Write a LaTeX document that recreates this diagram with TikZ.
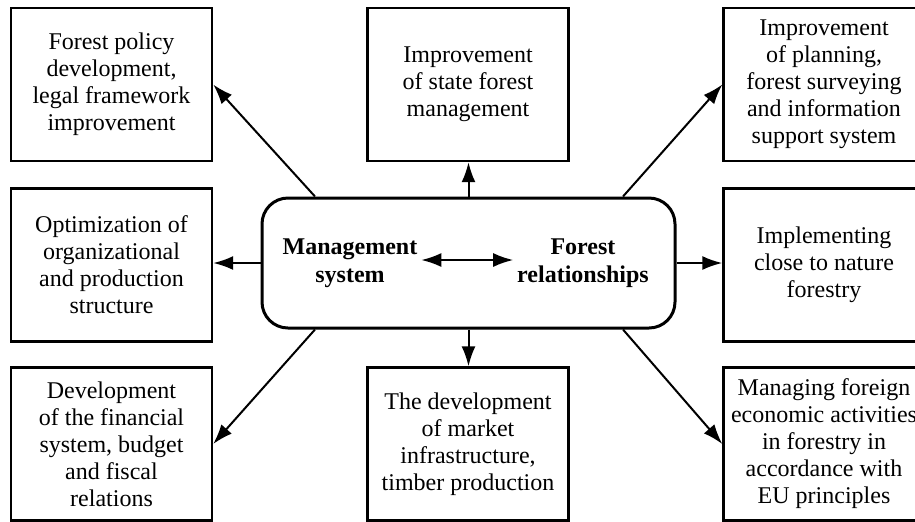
\documentclass[tikz,border=0pt]{standalone}
\usepackage{fontspec}
\setmainfont{Liberation Serif}
\usetikzlibrary{positioning,calc,arrows.meta}
\tikzstyle{forest diagram}=[
    ->,>={Latex[length=10pt,width=7pt]},line width=1pt,
    x=0.5pt,y=-0.5pt,
    every node/.style={
        align=center,
        font=\fontsize{12}{13.5}\selectfont,
    },
]
\tikzstyle{taskbox}=[draw,rectangle,line width=1.2pt,inner sep=0pt,
    minimum width=100.5pt,minimum height=76.5pt]
\tikzstyle{hub}=[draw,rectangle,rounded corners=13pt,line width=1.5pt,
    minimum width=206.5pt,minimum height=65pt]
\tikzstyle{hubtext}=[font=\bfseries\fontsize{12}{14}\selectfont,inner sep=1.5pt]

\begin{document}
\begin{tikzpicture}[forest diagram]
    \useasboundingbox (0,0) rectangle (915,521);
    \node[taskbox] (policy) at (111.5,84.5) {Forest policy\\development,\\legal framework\\improvement};
    \node[taskbox] (state) at (468,84.5) {Improvement\\of state forest\\management};
    \node[taskbox] (planning) at (824,84.5) {Improvement\\of planning,\\forest surveying\\and information\\support system};
    \node[taskbox] (structure) at (111.5,265) {Optimization of\\organizational\\and production\\structure};
    \node[taskbox] (nature) at (824,265) {Implementing\\close to nature\\forestry};
    \node[taskbox] (finance) at (111.5,444) {Development\\of the financial\\system, budget\\and fiscal\\relations};
    \node[taskbox] (market) at (468,444) {The development\\of market\\infrastructure,\\timber production};
    \node[taskbox] (foreign) at (824,444) {Managing foreign\\economic activities\\in forestry in\\accordance with\\EU principles};

    \node[hub] (hub) at (468.5,263) {};
    \node[hubtext] (mgmt) at (350,263) {Management\\system};
    \node[hubtext] (relations) at (583,263) {Forest\\relationships};

    \path
        ([xshift=-76.75pt]hub.north) edge (policy.east)
        (hub.north) edge (hub.north |- state.south)
        ([xshift=77.25pt]hub.north) edge (planning.west)
        (hub.west) edge (hub.west -| structure.east)
        (hub.east) edge (hub.east -| nature.west)
        ([xshift=-76.75pt]hub.south) edge (finance.east)
        (hub.south) edge (hub.south |- market.north)
        ([xshift=77.25pt]hub.south) edge (foreign.west)
        ([yshift=1.5pt]mgmt.east) edge[<->] ([yshift=1.5pt]relations.west)
    ;
\end{tikzpicture}
\end{document}
